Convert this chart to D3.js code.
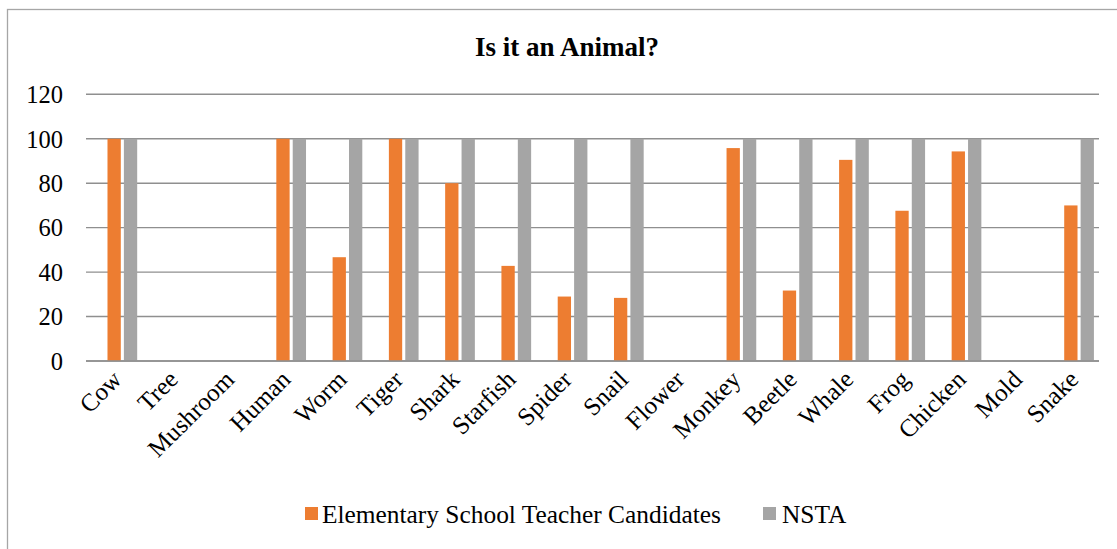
<!DOCTYPE html>
<html>
<head>
<meta charset="utf-8">
<script src="https://cdn.jsdelivr.net/npm/d3@7"></script>
<style>
  html, body { margin: 0; padding: 0; background: #fff; }
  svg { display: block; }
  text { font-family: "Liberation Serif", "DejaVu Serif", serif; fill: #000; }
</style>
</head>
<body>
<svg id="chart" width="1117" height="549"></svg>
<script>
const categories = ["Cow","Tree","Mushroom","Human","Worm","Tiger","Shark","Starfish","Spider","Snail","Flower","Monkey","Beetle","Whale","Frog","Chicken","Mold","Snake"];
const teacherCandidates = [100,0,0,100,46.7,100,80,42.8,29,28.4,0,95.8,31.7,90.5,67.6,94.3,0,70];
const nsta = [100,0,0,100,100,100,100,100,100,100,0,100,100,100,100,100,0,100];
const seriesNames = ["Elementary School Teacher Candidates","NSTA"];
const seriesColors = ["#ED7D31","#A5A5A5"];
const yTicks = [0,20,40,60,80,100,120];
const title = "Is it an Animal?";

const svg = d3.select("#chart");
const W = 1117, H = 549;
const plot = {left: 86, right: 1099, top: 94.3, bottom: 361};

// chart frame
svg.append("rect").attr("x", 7.5).attr("y", 9.5).attr("width", W + 10).attr("height", H + 10)
  .attr("fill", "#fff").attr("stroke", "#a6a6a6").attr("stroke-width", 1.3);

const x = d3.scaleBand().domain(categories).range([plot.left, plot.right]).padding(0);
const y = d3.scaleLinear().domain([0, 120]).range([plot.bottom, plot.top]);

// gridlines
svg.append("g").selectAll("line").data(yTicks).join("line")
  .attr("x1", plot.left).attr("x2", plot.right)
  .attr("y1", d => y(d)).attr("y2", d => y(d))
  .attr("stroke", "#8f8f8f").attr("stroke-width", 1.4);

// y axis labels
const yAxis = d3.axisLeft(y).tickValues(yTicks).tickSize(0).tickPadding(0);
const gy = svg.append("g").attr("transform", `translate(${plot.left - 23},0)`).call(yAxis);
gy.select(".domain").remove();
gy.selectAll("text").attr("font-family", "Liberation Serif").attr("font-size", 24.5).attr("dy", "0.34em").attr("fill", "#000");

// bars
const barW = 13.3, step = 16.4;
const bw = x.bandwidth();
const series = [teacherCandidates, nsta];
series.forEach((vals, si) => {
  svg.append("g").selectAll("rect").data(categories).join("rect")
    .attr("x", (c) => x(c) + bw / 2 - barW / 2 + si * step)
    .attr("y", (c, i) => y(vals[i]))
    .attr("width", barW)
    .attr("height", (c, i) => y(0) - y(vals[i]))
    .attr("fill", seriesColors[si]);
});

// axis line at 0
svg.append("line").attr("x1", plot.left).attr("x2", plot.right)
  .attr("y1", y(0)).attr("y2", y(0)).attr("stroke", "#8f8f8f").attr("stroke-width", 1.4);

// x labels
const xAxis = d3.axisBottom(x).tickSize(0).tickPadding(0);
const gx = svg.append("g").attr("transform", `translate(0,${plot.bottom})`).call(xAxis);
gx.select(".domain").remove();
gx.selectAll(".tick text")
  .attr("font-family", "Liberation Serif").attr("font-size", 25).attr("fill", "#000")
  .attr("text-anchor", "end")
  .attr("y", 0).attr("dy", 0)
  .attr("transform", "translate(9,20) rotate(-45)");

// title
svg.append("text").attr("x", 567).attr("y", 56).attr("text-anchor", "middle")
  .attr("font-weight", "bold").attr("font-size", 27).text(title);

// legend
const legendItems = [{sq: 305, tx: 322}, {sq: 763, tx: 782}];
legendItems.forEach((p, i) => {
  svg.append("rect").attr("x", p.sq).attr("y", 507).attr("width", 13).attr("height", 13).attr("fill", seriesColors[i]);
  svg.append("text").attr("x", p.tx).attr("y", 523).attr("font-size", 25.4).text(seriesNames[i]);
});
</script>
</body>
</html>
